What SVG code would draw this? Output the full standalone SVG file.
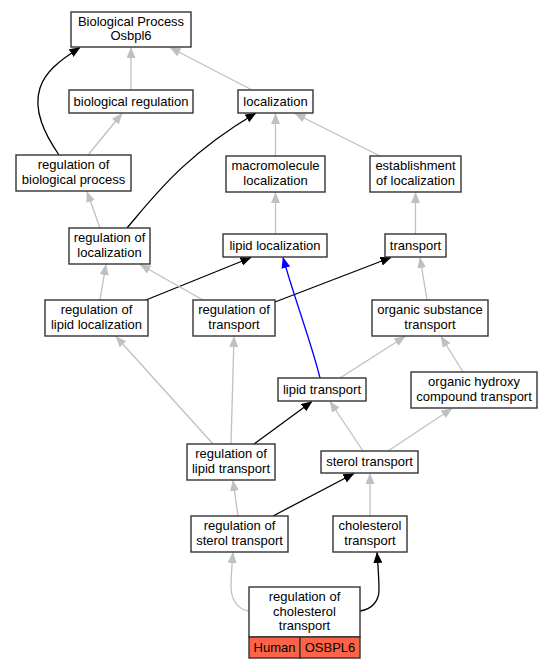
<svg xmlns="http://www.w3.org/2000/svg" width="553" height="669" viewBox="0 0 553 669">
<defs>
<style>
.n rect{fill:#fff;stroke:#333;stroke-width:1.4}
.n rect.red{fill:#ff6347}
text{font-family:"Liberation Sans",Arial,sans-serif;font-size:13px;fill:#000;text-anchor:middle}
.e path{fill:none;stroke-width:1.3}
.g{stroke:#c0c0c0}
.k{stroke:#000}
.b{stroke:#0000ff}
</style>
<marker id="ag" markerUnits="userSpaceOnUse" markerWidth="11" markerHeight="9" refX="10.5" refY="4.5" orient="auto"><path d="M0,0 L11,4.5 L0,9 z" fill="#c0c0c0"/></marker>
<marker id="ak" markerUnits="userSpaceOnUse" markerWidth="11" markerHeight="9" refX="10.5" refY="4.5" orient="auto"><path d="M0,0 L11,4.5 L0,9 z" fill="#000"/></marker>
<marker id="ab" markerUnits="userSpaceOnUse" markerWidth="11" markerHeight="9" refX="10.5" refY="4.5" orient="auto"><path d="M0,0 L11,4.5 L0,9 z" fill="#0000ff"/></marker>
</defs>
<rect width="553" height="669" fill="#fff"/>
<g id="edges" class="e">
<path class="g" marker-end="url(#ag)" d="M131,90 L131,47.5"/>
<path class="g" marker-end="url(#ag)" d="M252,90 L170,47.5"/>
<path class="k" marker-end="url(#ak)" d="M59,155 C44,133 33,110 40,88 C45,73 57,62 80,47.5"/>
<path class="g" marker-end="url(#ag)" d="M88,155 L122,113.5"/>
<path class="g" marker-end="url(#ag)" d="M275.5,156 L275.5,113.5"/>
<path class="g" marker-end="url(#ag)" d="M380,156 L295,113.5"/>
<path class="k" marker-end="url(#ak)" d="M127,228 C155,195 185,155 256,113"/>
<path class="g" marker-end="url(#ag)" d="M100,228 L87,191.5"/>
<path class="g" marker-end="url(#ag)" d="M275.5,234 L275.5,192.5"/>
<path class="g" marker-end="url(#ag)" d="M415.5,234 L415.5,192.5"/>
<path class="g" marker-end="url(#ag)" d="M100,300 L106,264.5"/>
<path class="k" marker-end="url(#ak)" d="M146,300 L251,257.5"/>
<path class="g" marker-end="url(#ag)" d="M203,300 L140,264.5"/>
<path class="k" marker-end="url(#ak)" d="M275,302 L391,257.5"/>
<path class="b" marker-end="url(#ab)" d="M320,378 C312,345 295,300 283,257.5"/>
<path class="g" marker-end="url(#ag)" d="M427,300 L420,257.5"/>
<path class="g" marker-end="url(#ag)" d="M340,378 L405,336.5"/>
<path class="g" marker-end="url(#ag)" d="M463,372 L441,336.5"/>
<path class="g" marker-end="url(#ag)" d="M213,444 L116,336.5"/>
<path class="g" marker-end="url(#ag)" d="M231,444 L234,336.5"/>
<path class="k" marker-end="url(#ak)" d="M254,444 L312,401.5"/>
<path class="g" marker-end="url(#ag)" d="M363,451 L330,401.5"/>
<path class="g" marker-end="url(#ag)" d="M388,451 L452,408.5"/>
<path class="g" marker-end="url(#ag)" d="M238,516 L233,480.5"/>
<path class="k" marker-end="url(#ak)" d="M273,516 L354,473.5"/>
<path class="g" marker-end="url(#ag)" d="M370,516 L370,473.5"/>
<path class="g" marker-end="url(#ag)" d="M249,611 C236,609 231,598 231,586 C231,575 232,565 233,552.5"/>
<path class="k" marker-end="url(#ak)" d="M360,611 C373,609 379,600 379,590 C379,578 378,565 377,552.5"/>
</g>
<g id="n_bp" class="n"><rect x="71" y="12" width="120" height="35"/><text x="131" y="25.5">Biological Process</text><text x="131" y="40">Osbpl6</text></g>
<g id="n_breg" class="n"><rect x="69" y="90" width="124" height="23"/><text x="131" y="105.5">biological regulation</text></g>
<g id="n_loc" class="n"><rect x="238" y="90" width="75" height="23"/><text x="275.5" y="105.5">localization</text></g>
<g id="n_rbp" class="n"><rect x="16" y="155" width="115" height="36"/><text x="73.5" y="169">regulation of</text><text x="73.5" y="183.5">biological process</text></g>
<g id="n_macro" class="n"><rect x="226" y="156" width="99" height="36"/><text x="275.5" y="170">macromolecule</text><text x="275.5" y="184.5">localization</text></g>
<g id="n_estab" class="n"><rect x="370" y="156" width="91" height="36"/><text x="415.5" y="170">establishment</text><text x="415.5" y="184.5">of localization</text></g>
<g id="n_rloc" class="n"><rect x="69" y="228" width="81" height="36"/><text x="109.5" y="242">regulation of</text><text x="109.5" y="256.5">localization</text></g>
<g id="n_lipidloc" class="n"><rect x="223" y="234" width="104" height="23"/><text x="275" y="249.5">lipid localization</text></g>
<g id="n_transport" class="n"><rect x="385" y="234" width="61" height="23"/><text x="415.5" y="249.5">transport</text></g>
<g id="n_rll" class="n"><rect x="45" y="300" width="103" height="36"/><text x="96.5" y="314">regulation of</text><text x="96.5" y="328.5">lipid localization</text></g>
<g id="n_rt" class="n"><rect x="193" y="300" width="82" height="36"/><text x="234" y="314">regulation of</text><text x="234" y="328.5">transport</text></g>
<g id="n_ost" class="n"><rect x="372" y="300" width="116" height="36"/><text x="430" y="314">organic substance</text><text x="430" y="328.5">transport</text></g>
<g id="n_lt" class="n"><rect x="278" y="378" width="88" height="23"/><text x="322" y="393.5">lipid transport</text></g>
<g id="n_ohct" class="n"><rect x="411" y="372" width="126" height="36"/><text x="474" y="386">organic hydroxy</text><text x="474" y="400.5">compound transport</text></g>
<g id="n_rlt" class="n"><rect x="187" y="444" width="88" height="36"/><text x="231" y="458">regulation of</text><text x="231" y="472.5">lipid transport</text></g>
<g id="n_st" class="n"><rect x="321" y="451" width="97" height="22"/><text x="369.5" y="466">sterol transport</text></g>
<g id="n_rst" class="n"><rect x="191" y="516" width="97" height="36"/><text x="239.5" y="530">regulation of</text><text x="239.5" y="544.5">sterol transport</text></g>
<g id="n_ct" class="n"><rect x="333" y="516" width="74" height="36"/><text x="370" y="530">cholesterol</text><text x="370" y="544.5">transport</text></g>
<g id="n_rct" class="n"><rect x="249" y="587" width="111" height="50"/><text x="304.5" y="601">regulation of</text><text x="304.5" y="615.5">cholesterol</text><text x="304.5" y="630">transport</text><rect class="red" x="249" y="637" width="51" height="21"/><rect class="red" x="300" y="637" width="60" height="21"/><text x="274.5" y="652">Human</text><text x="330" y="652">OSBPL6</text></g>
</svg>
